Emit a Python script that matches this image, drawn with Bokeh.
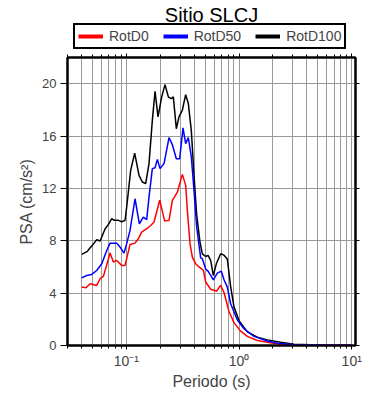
from bokeh.plotting import figure
from bokeh.layouts import column
from bokeh.models import Range1d, FixedTicker, LogAxis, LinearAxis, Legend, LegendItem, Label
from bokeh.embed import file_html
from bokeh.resources import INLINE

# ---- data ----
T_d0 = [0.0401, 0.0438, 0.0476, 0.0545, 0.0584, 0.0625, 0.0716, 0.0766, 0.0820, 0.0908,
        0.0973, 0.1077, 0.1193, 0.1277, 0.1367, 0.1514, 0.1643, 0.1759, 0.1975, 0.2187,
        0.2389, 0.2558, 0.2834, 0.3139, 0.3358, 0.3475, 0.3669, 0.3848, 0.4120, 0.4410,
        0.4819, 0.5054, 0.5598, 0.6326, 0.6866, 0.7348, 0.8141, 0.9014, 1.033, 1.184,
        1.453, 1.781, 2.342, 3.07, 6.07, 10.0]
psa_d0 = [4.46, 4.41, 4.72, 4.59, 5.10, 5.28, 7.06, 6.37, 6.50, 6.12,
          6.12, 7.72, 7.82, 8.16, 8.66, 8.92, 9.17, 9.43, 11.10, 9.50,
          9.56, 11.09, 11.72, 13.07, 12.23, 10.3, 7.78, 6.75, 6.24, 6.0,
          5.75, 4.85, 4.3, 4.15, 4.6, 4.05, 2.6, 1.75, 1.1, 0.7,
          0.38, 0.25, 0.08, 0.04, 0.02, 0.01]

T_d50 = [0.0401, 0.0444, 0.0492, 0.0545, 0.0604, 0.0669, 0.0716, 0.0820, 0.0878, 0.0953,
         0.1006, 0.1077, 0.1193, 0.1303, 0.1414, 0.1514, 0.1587, 0.1699, 0.1795, 0.1883,
         0.1988, 0.2158, 0.2389, 0.2558, 0.2774, 0.2971, 0.3180, 0.3357, 0.3545, 0.3770,
         0.3980, 0.4203, 0.4563, 0.4720, 0.5054, 0.5300, 0.5597, 0.5908, 0.6413, 0.6961,
         0.7348, 0.7865, 0.8420, 0.9650, 1.106, 1.357, 1.781, 2.185, 3.07, 6.07, 10.0]
psa_d50 = [5.17, 5.35, 5.43, 5.73, 6.24, 7.26, 7.82, 7.82, 7.52, 7.06,
           7.78, 8.79, 11.21, 9.30, 9.81, 9.61, 11.34, 13.51, 13.58, 14.22,
           13.51, 13.9, 15.88, 15.34, 14.27, 14.27, 16.62, 15.42, 15.88, 14.40,
           11.85, 9.05, 6.7, 6.63, 5.85, 5.68, 5.35, 5.02, 5.53, 5.68,
           5.02, 4.46, 3.19, 1.95, 1.28, 0.7, 0.35, 0.18, 0.06, 0.02, 0.01]

T_d100 = [0.0401, 0.0450, 0.0476, 0.0499, 0.0545, 0.0584, 0.0646, 0.0692, 0.0741, 0.0777,
          0.0849, 0.0908, 0.0973, 0.1006, 0.1091, 0.1184, 0.1294, 0.1385, 0.1483, 0.1587,
          0.1699, 0.1795, 0.1908, 0.2056, 0.2201, 0.2356, 0.2505, 0.2609, 0.2774, 0.2929,
          0.3135, 0.3357, 0.3545, 0.3770, 0.3980, 0.4203, 0.4498, 0.4720, 0.5054, 0.5300,
          0.5597, 0.5908, 0.6281, 0.6866, 0.7348, 0.7865, 0.8420, 0.9014, 0.9986, 1.184,
          1.453, 1.781, 2.342, 3.07, 4.32, 6.07, 10.0]
psa_d100 = [6.96, 7.19, 7.47, 7.65, 8.08, 7.98, 8.90, 9.25, 9.70, 9.56,
            9.56, 9.45, 9.56, 10.58, 13.38, 14.70, 13.00, 12.49, 12.36, 13.89,
            17.20, 19.42, 17.46, 18.99, 19.93, 18.99, 18.86, 18.99, 16.56, 17.46,
            17.97, 19.16, 18.48, 16.4, 13.0, 10.0, 7.9, 7.0, 6.8, 6.88,
            6.50, 5.35, 6.24, 7.01, 6.9, 6.6, 4.5, 2.95, 1.9, 1.04,
            0.64, 0.43, 0.25, 0.10, 0.05, 0.03, 0.02]

series_labels = ["RotD0", "RotD50", "RotD100"]
series_colors = ["#ff0000", "#0000ff", "#000000"]

x_major = [0.1, 1.0, 10.0]
x_minor = [0.03, 0.04, 0.05, 0.06, 0.07, 0.08, 0.09,
           0.2, 0.3, 0.4, 0.5, 0.6, 0.7, 0.8, 0.9,
           2, 3, 4, 5, 6, 7, 8, 9]
x_labels = {0.1: "10\u207b\u00b9", 1.0: "10\u2070", 10.0: "10\u00b9"}
y_major = [0, 4, 8, 12, 16, 20]

title_text = "Sitio SLCJ"
x_title = "Periodo (s)"
y_title = "PSA (cm/s\u00b2)"

FONT = "Liberation Sans"
GRID = "#9a9a9a"
W = 380
HEAD_H = 49
FRAME_W = 288

# ---------------- header (title + legend), frame aligned with the plot frame ----------------
head = figure(width=W, height=HEAD_H, x_range=Range1d(0, 1), y_range=Range1d(0, 1),
              output_backend="svg", toolbar_location=None,
              x_axis_location=None, y_axis_location=None, min_border=0)
head.title.visible = False
head.outline_line_color = None
head.grid.visible = False
head.background_fill_color = "white"
head.border_fill_color = "white"

nan = float("nan")
swatches = [head.line(x=[nan], y=[nan], line_color=c, line_width=4) for c in series_colors]
legend = Legend(items=[LegendItem(label=l, renderers=[r]) for l, r in zip(series_labels, swatches)],
                orientation="horizontal", location=(6, 0), margin=0,
                padding=3, spacing=14, glyph_width=25, glyph_height=12, label_height=12,
                label_standoff=6, label_text_font=FONT, label_text_font_size="14px",
                border_line_color="black", border_line_width=2, border_line_alpha=1,
                background_fill_color="white", background_fill_alpha=1)
head.add_layout(legend, "center")
head.add_layout(Label(x=FRAME_W / 2, y=HEAD_H - 14, x_units="screen", y_units="screen",
                      text=title_text, text_align="center", text_baseline="middle",
                      text_font=FONT, text_font_size="20px", text_color="black"))

# ---------------- main plot ----------------
p = figure(width=W, height=392 - HEAD_H, x_axis_type="log",
           x_range=Range1d(0.03, 10.8), y_range=Range1d(0, 22),
           output_backend="svg", toolbar_location=None,
           min_border_left=67, min_border_right=25,
           min_border_top=8, min_border_bottom=47)
p.title.visible = False
p.background_fill_color = "white"
p.border_fill_color = "white"
p.outline_line_color = "black"
p.outline_line_width = 2
p.outline_line_alpha = 1

xt = FixedTicker(ticks=x_major, minor_ticks=x_minor)
yt = FixedTicker(ticks=y_major, minor_ticks=[])

xa = p.xaxis[0]
xa.ticker = xt
xa.major_label_overrides = x_labels
xa.axis_label = x_title
xa.axis_label_text_font = FONT
xa.axis_label_text_font_size = "16px"
xa.axis_label_text_font_style = "normal"
xa.axis_label_standoff = 1
xa.major_label_text_font = FONT
xa.major_label_text_font_size = "14px"
xa.major_label_standoff = 3
xa.major_tick_out = 4
xa.major_tick_in = 0
xa.minor_tick_out = 3
xa.minor_tick_in = 0
xa.axis_line_width = 2

ya = p.yaxis[0]
ya.ticker = yt
ya.axis_label = y_title
ya.axis_label_text_font = FONT
ya.axis_label_text_font_size = "16px"
ya.axis_label_text_font_style = "normal"
ya.axis_label_standoff = 4
ya.major_label_text_font = FONT
ya.major_label_text_font_size = "13px"
ya.major_label_standoff = 4
ya.major_tick_out = 7
ya.major_tick_in = 0
ya.minor_tick_out = 0
ya.minor_tick_in = 0
ya.axis_line_width = 2

top = LogAxis(ticker=xt, major_label_text_color=None, major_label_text_font_size="1px",
              major_label_standoff=0,
              major_tick_out=4, major_tick_in=0, minor_tick_out=3, minor_tick_in=0,
              axis_line_width=2)
right = LinearAxis(ticker=yt, major_label_text_color=None, major_label_text_font_size="1px",
                   major_label_standoff=0,
                   major_tick_out=4, major_tick_in=0, minor_tick_out=0, minor_tick_in=0,
                   axis_line_width=2)
p.add_layout(top, "above")
p.add_layout(right, "right")

p.xgrid.ticker = xt
p.xgrid.grid_line_color = GRID
p.xgrid.minor_grid_line_color = GRID
p.xgrid.grid_line_width = 1
p.ygrid.ticker = yt
p.ygrid.grid_line_color = GRID
p.ygrid.grid_line_width = 1

p.line(T_d100, psa_d100, line_color=series_colors[2], line_width=1.5)
p.line(T_d0, psa_d0, line_color=series_colors[0], line_width=1.5)
p.line(T_d50, psa_d50, line_color=series_colors[1], line_width=1.5)

layout = column(head, p, spacing=0)
open("out.html", "w").write(file_html(layout, INLINE))
